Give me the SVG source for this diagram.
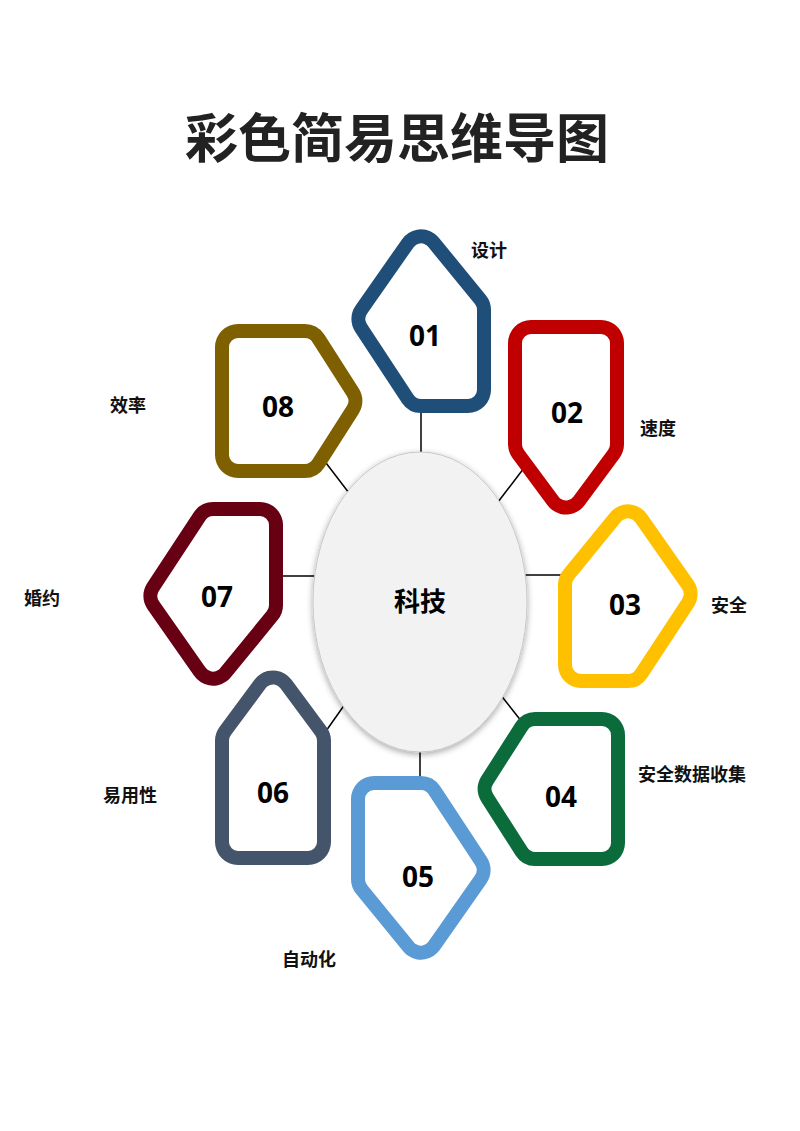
<svg xmlns="http://www.w3.org/2000/svg" xmlns:xlink="http://www.w3.org/1999/xlink" width="800" height="1131" viewBox="0 0 800 1131">
<style>
.ring{fill:currentColor;stroke:currentColor;stroke-width:46;stroke-linejoin:round}
.hole{fill:#fff;stroke:#fff;stroke-width:18;stroke-linejoin:round}
.num{font-family:"Open Sans","Liberation Sans",sans-serif;font-weight:700;font-size:28px;fill:#000;text-anchor:middle}
.lbl{font-family:"Noto Sans CJK SC","Noto Sans",sans-serif;font-weight:700;font-size:18px;fill:#111;text-anchor:middle}
.title{font-family:"Noto Sans CJK SC",sans-serif;font-weight:700;font-size:53px;fill:#222;text-anchor:middle}
.conn{stroke:#000;stroke-width:1.5;fill:none}
</style>
<defs>
<g id="shapeA">
<polygon class="ring" points="69,23.3 22,80.7 22,161 68.9,161 115.6,90"/>
<polygon class="hole" points="69,23.3 22,80.7 22,161 68.9,161 115.6,90"/>
</g>
<g id="shapeB">
<polygon class="ring" points="57,23.4 22,70.7 22,172 92,172 92,70.7"/>
<polygon class="hole" points="57,23.4 22,70.7 22,172 92,172 92,70.7"/>
</g>
<g id="shapeC">
<polygon class="ring" points="23.6,76 58.1,22 125,22 125,130 58.1,130"/>
<polygon class="hole" points="23.6,76 58.1,22 125,22 125,130 58.1,130"/>
</g>
<filter id="shadow" x="-20%" y="-20%" width="140%" height="140%">
<feDropShadow dx="0" dy="2" stdDeviation="3" flood-color="#000" flood-opacity="0.35"/>
</filter>
</defs>
<rect width="800" height="1131" fill="#fff"/>
<text class="title" x="397" y="158">彩色简易思维导图</text>
<g id="connectors">
<line class="conn" x1="421" y1="405" x2="421" y2="456"/>
<line class="conn" x1="524" y1="468" x2="498" y2="502"/>
<line class="conn" x1="524" y1="575" x2="564" y2="575"/>
<line class="conn" x1="496" y1="689" x2="522" y2="722"/>
<line class="conn" x1="420" y1="734" x2="420" y2="782"/>
<line class="conn" x1="350" y1="697" x2="326" y2="731"/>
<line class="conn" x1="279" y1="576" x2="316" y2="576"/>
<line class="conn" x1="323" y1="459" x2="349" y2="493"/>
</g>
<g id="center">
<ellipse cx="420" cy="602" rx="107" ry="150" fill="#f2f2f2" stroke="#c8c8c8" stroke-width="1" filter="url(#shadow)"/>
<text x="420" y="611" font-family="Noto Sans CJK SC, sans-serif" font-weight="700" font-size="26" fill="#000" text-anchor="middle">科技</text>
</g>
<g id="node01">
<use xlink:href="#shapeA" href="#shapeA" color="#1F4E79" transform="translate(490,229) scale(-1,1)"/>
<text class="num" x="425" y="346">01</text>
<text class="lbl" x="489" y="257">设计</text>
</g>
<g id="node02">
<use xlink:href="#shapeB" href="#shapeB" color="#C00000" transform="translate(509,515) scale(1,-1)"/>
<text class="num" x="567" y="423">02</text>
<text class="lbl" x="658" y="435">速度</text>
</g>
<g id="node03">
<use xlink:href="#shapeA" href="#shapeA" color="#FFC000" transform="translate(559,504)"/>
<text class="num" x="625" y="615">03</text>
<text class="lbl" x="729" y="612">安全</text>
</g>
<g id="node04">
<use xlink:href="#shapeC" href="#shapeC" color="#0B6B3B" transform="translate(477,713)"/>
<text class="num" x="561" y="807">04</text>
<text class="lbl" x="692" y="781">安全数据收集</text>
</g>
<g id="node05">
<use xlink:href="#shapeA" href="#shapeA" color="#5B9BD5" transform="translate(352,960) scale(1,-1)"/>
<text class="num" x="418" y="887">05</text>
<text class="lbl" x="309" y="966">自动化</text>
</g>
<g id="node06">
<use xlink:href="#shapeB" href="#shapeB" color="#44546A" transform="translate(216,670)"/>
<text class="num" x="273" y="803">06</text>
<text class="lbl" x="130" y="802">易用性</text>
</g>
<g id="node07">
<use xlink:href="#shapeA" href="#shapeA" color="#660012" transform="translate(282,686) scale(-1,-1)"/>
<text class="num" x="217" y="607">07</text>
<text class="lbl" x="42" y="605">婚约</text>
</g>
<g id="node08">
<use xlink:href="#shapeC" href="#shapeC" color="#7F6000" transform="translate(363,325) scale(-1,1)"/>
<text class="num" x="278" y="417">08</text>
<text class="lbl" x="128" y="412">效率</text>
</g>
</svg>
